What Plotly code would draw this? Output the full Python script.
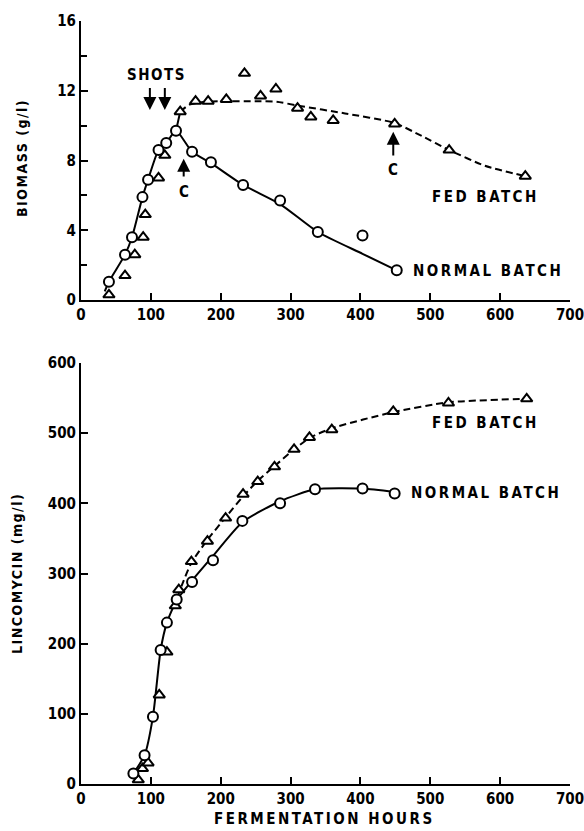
import plotly.graph_objects as go

# ---------------- Data ----------------
# Biomass (g/l) vs fermentation hours
normal_bio_hours = [40, 63, 73, 88, 96, 111, 122, 136, 159, 186, 232, 285, 339, 403, 452]
normal_bio_vals = [1.05, 2.6, 3.6, 5.9, 6.9, 8.6, 9.0, 9.7, 8.5, 7.9, 6.6, 5.7, 3.9, 3.7, 1.7]

fed_bio_hours = [40, 63, 77, 89, 92, 111, 120, 142, 164, 182, 208, 234, 257, 279, 310, 329, 361, 449, 527, 636]
fed_bio_vals = [0.3, 1.4, 2.6, 3.6, 4.9, 7.0, 8.3, 10.8, 11.4, 11.4, 11.5, 13.0, 11.7, 12.1, 11.0, 10.5, 10.3, 10.1, 8.6, 7.1]

# fitted curves drawn by hand in the original
normal_bio_curve_hours = [34, 40, 63, 73, 88, 96, 111, 122, 136, 159, 186, 232, 285, 339, 403, 452]
normal_bio_curve_vals = [0.5, 1.05, 2.6, 3.6, 5.9, 6.9, 8.6, 9.0, 9.7, 8.5, 7.85, 6.6, 5.5, 3.9, 2.65, 1.7]
fed_bio_link_hours = [136, 142]
fed_bio_link_vals = [9.7, 10.8]
fed_bio_curve_hours = [142, 155, 175, 200, 250, 280, 310, 378, 449, 488, 527, 578, 636]
fed_bio_curve_vals = [10.8, 11.2, 11.35, 11.4, 11.4, 11.37, 11.15, 10.7, 10.15, 9.4, 8.6, 7.7, 7.1]

# Lincomycin (mg/l) vs fermentation hours
normal_lin_hours = [75, 91, 103, 114, 123, 137, 159, 189, 231, 285, 335, 403, 449]
normal_lin_vals = [15, 41, 96, 191, 230, 263, 288, 319, 375, 400, 420, 421, 414]

fed_lin_hours = [82, 88, 96, 112, 123, 135, 140, 158, 181, 207, 232, 253, 277, 305, 327, 359, 447, 526, 638]
fed_lin_vals = [6, 22, 30, 127, 188, 254, 277, 317, 346, 379, 413, 431, 452, 477, 494, 505, 531, 543, 549]

normal_lin_curve_hours = [75, 91, 103, 114, 123, 137, 159, 189, 231, 285, 335, 403, 449]
normal_lin_curve_vals = [15, 41, 96, 191, 230, 262, 290, 325, 373, 403, 420, 421, 416]
fed_lin_curve_hours = [133, 145, 158, 181, 207, 232, 253, 277, 304, 327, 359, 447, 526, 638]
fed_lin_curve_vals = [252, 285, 315, 348, 380, 410, 432, 453, 476, 493, 507, 530, 544, 549]

x_ticks = [0, 100, 200, 300, 400, 500, 600, 700]
bio_ticks = [0, 4, 8, 12, 16]
lin_ticks = [0, 100, 200, 300, 400, 500, 600]

# ---------------- Styling ----------------
FONT = "DejaVu Sans Condensed, Liberation Sans Narrow, sans-serif"
BLACK = "black"

fig = go.Figure()

def curve(x, y, xa, ya, dash="solid"):
    fig.add_trace(go.Scatter(x=x, y=y, mode="lines", xaxis=xa, yaxis=ya,
                             line=dict(color=BLACK, width=2, dash=dash, shape="spline", smoothing=0.6),
                             showlegend=False, hoverinfo="skip"))

def marks(x, y, xa, ya, symbol):
    fig.add_trace(go.Scatter(x=x, y=y, mode="markers", xaxis=xa, yaxis=ya,
                             marker=dict(symbol=symbol, size=10, color="white",
                                         line=dict(color=BLACK, width=2)),
                             showlegend=False))

DASH = "7px,4px"
# top panel (biomass)
curve(normal_bio_curve_hours, normal_bio_curve_vals, "x", "y")
curve(fed_bio_link_hours, fed_bio_link_vals, "x", "y")
curve(fed_bio_curve_hours, fed_bio_curve_vals, "x", "y", DASH)
marks(fed_bio_hours, fed_bio_vals, "x", "y", "triangle-up")
marks(normal_bio_hours, normal_bio_vals, "x", "y", "circle")

# bottom panel (lincomycin)
curve(normal_lin_curve_hours, normal_lin_curve_vals, "x2", "y2")
curve(fed_lin_curve_hours, fed_lin_curve_vals, "x2", "y2", DASH)
marks(fed_lin_hours, fed_lin_vals, "x2", "y2", "triangle-up")
marks(normal_lin_hours, normal_lin_vals, "x2", "y2", "circle")

W, H = 584, 831
x_dom = [81 / W, 570 / W]
top_dom = [(H - 300) / H, (H - 21) / H]
bot_dom = [(H - 784) / H, (H - 363) / H]

tickfont = dict(family=FONT, size=15, color=BLACK, weight="bold")
axis_common = dict(showline=True, linecolor=BLACK, linewidth=2, ticks="inside",
                   ticklen=7, tickwidth=2, tickcolor=BLACK, showgrid=False,
                   zeroline=False, tickfont=tickfont, mirror=False, automargin=False,
                   ticklabeloverflow="allow")

fig.update_layout(
    width=W, height=H, margin=dict(l=0, r=0, t=0, b=0, pad=0),
    paper_bgcolor="white", plot_bgcolor="white",
    font=dict(family=FONT, color=BLACK),
    xaxis=dict(domain=x_dom, range=[0, 700], tickvals=x_ticks, anchor="y", **axis_common),
    yaxis=dict(domain=top_dom, range=[0, 16], tickvals=bio_ticks, anchor="x",
               minor=dict(ticks="inside", dtick=2, ticklen=6, tickwidth=2, tickcolor=BLACK),
               **axis_common),
    xaxis2=dict(domain=x_dom, range=[0, 700], tickvals=x_ticks, anchor="y2", **axis_common),
    yaxis2=dict(domain=bot_dom, range=[0, 600], tickvals=lin_ticks, anchor="x2", **axis_common),
)

def sp(t, s=2):
    return f'<span style="letter-spacing:{s}px"><b>{t}</b></span>'

lab_font = dict(family=FONT, size=15, color=BLACK)
ann = []
# axis titles
ann.append(dict(xref="paper", yref="paper", x=22 / W, y=(H - 158) / H, text=sp("BIOMASS (g/l)", 1.5),
                xanchor="center", yanchor="middle",
                textangle=-90, showarrow=False, font=dict(family=FONT, size=14, color=BLACK)))
ann.append(dict(xref="paper", yref="paper", x=17 / W, y=(H - 574) / H, text=sp("LINCOMYCIN (mg/l)", 1.5),
                xanchor="center", yanchor="middle",
                textangle=-90, showarrow=False, font=dict(family=FONT, size=14, color=BLACK)))
ann.append(dict(xref="paper", yref="paper", x=324 / W, y=(H - 819) / H, text=sp("FERMENTATION HOURS", 2.5),
                xanchor="center", yanchor="middle",
                showarrow=False, font=dict(family=FONT, size=15, color=BLACK)))

# top panel labels
ann.append(dict(xref="x", yref="y", x=108, y=12.9, text=sp("SHOTS", 1.5), showarrow=False, font=lab_font))
for hx in [98.6, 120]:
    ann.append(dict(xref="x", yref="y", axref="x", ayref="y", x=hx, y=10.9, ax=hx, ay=12.25,
                    text="", showarrow=True, arrowhead=2, arrowsize=1.3, arrowwidth=2, arrowcolor=BLACK))
for hx, tip, base, cy in [(147, 8.1, 7.0, 6.2), (447, 9.65, 8.2, 7.45)]:
    ann.append(dict(xref="x", yref="y", axref="x", ayref="y", x=hx, y=tip, ax=hx, ay=base,
                    text="", showarrow=True, arrowhead=2, arrowsize=1.3, arrowwidth=2, arrowcolor=BLACK))
    ann.append(dict(xref="x", yref="y", x=hx, y=cy, text=sp("C", 0), showarrow=False, font=lab_font))
ann.append(dict(xref="x", yref="y", x=579, y=5.9, text=sp("FED BATCH", 2.5), showarrow=False, font=lab_font))
ann.append(dict(xref="x", yref="y", x=473, y=1.68, text=sp("NORMAL BATCH", 2.5), showarrow=False,
                xanchor="left", font=lab_font))

# bottom panel labels
ann.append(dict(xref="x2", yref="y2", x=579, y=514, text=sp("FED BATCH", 2.5), showarrow=False, font=lab_font))
ann.append(dict(xref="x2", yref="y2", x=470, y=415, text=sp("NORMAL BATCH", 2.5), showarrow=False,
                xanchor="left", font=lab_font))

fig.update_layout(annotations=ann)
fig.write_html("out.html", config={"displayModeBar": False},
               post_script="document.body.style.margin='0';document.body.style.overflow='hidden';")
